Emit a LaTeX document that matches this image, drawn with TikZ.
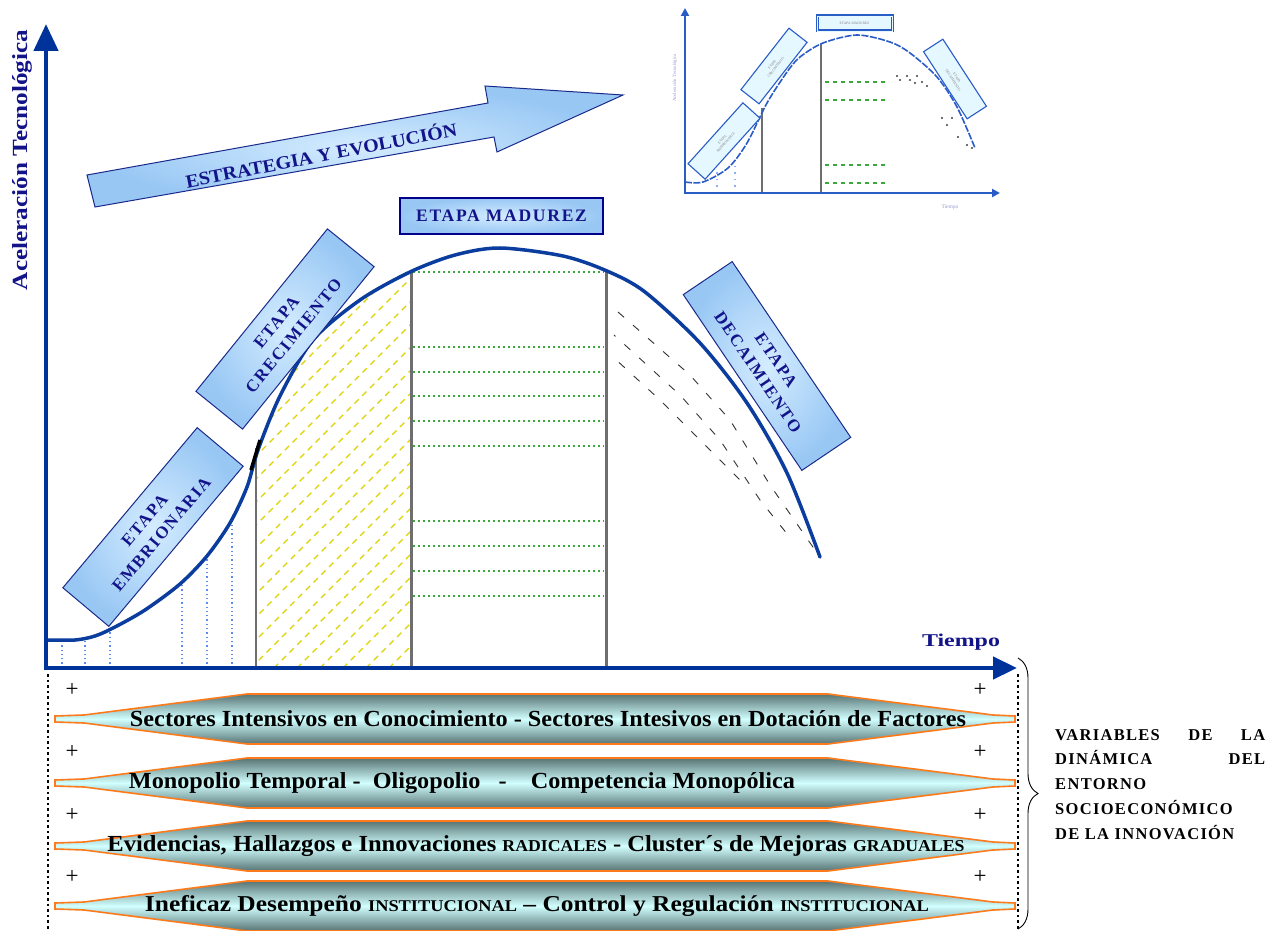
\documentclass[tikz,border=0pt]{standalone}
\usepackage{fontspec}
\usepackage{graphicx}
\setmainfont{Liberation Serif}
\newfontfamily\spacedserif[LetterSpace=10]{Liberation Serif}
\newfontfamily\widespacedserif[LetterSpace=8]{Liberation Serif}
\usetikzlibrary{arrows.meta,decorations.pathreplacing}
\newcommand\minorcaps[1]{{\fontsize{13}{13}\selectfont #1}}

\definecolor{axisblue}{HTML}{003399}
\definecolor{curveblue}{HTML}{0A3D9E}
\definecolor{labelnavy}{HTML}{14148A}
\definecolor{boxedge}{HTML}{1A2A8A}
\definecolor{boxlight}{HTML}{D4ECFF}
\definecolor{boxmid}{HTML}{98C7F4}
\definecolor{hatchyellow}{HTML}{DED200}
\definecolor{dotgreen}{HTML}{3AA83A}
\definecolor{stemgray}{HTML}{6E6E6E}
\definecolor{dotblue}{HTML}{5A8CF0}
\definecolor{barorange}{HTML}{FF7A1A}
\definecolor{barcyan}{HTML}{D2FFFF}
\definecolor{bardark}{HTML}{587474}
\definecolor{insetblue}{HTML}{2A5CC8}
\definecolor{insetbox}{HTML}{E6F8FF}
\definecolor{insettext}{HTML}{9A9AD8}

\begin{document}
\begin{tikzpicture}[x=1pt,y=-1pt,
  axisline/.style={draw=axisblue, line width=4.5pt},
  curveline/.style={draw=curveblue, line width=3.5pt, line cap=round},
  stagebox/.style={draw=boxedge, line width=1pt, inner color=boxlight, outer color=boxmid,
     align=center, text=labelnavy, inner sep=0pt,
     font=\spacedserif\bfseries\fontsize{17}{22}\selectfont},
  stem/.style={draw=stemgray, line width=3pt},
  thinstem/.style={draw=stemgray, line width=1.6pt},
  greendots/.style={draw=dotgreen, line width=1.6pt, dash pattern=on 1.6pt off 3.4pt},
  bluedots/.style={draw=dotblue, line width=1.3pt, dash pattern=on 1.3pt off 3pt},
  hatch/.style={draw=hatchyellow, line width=1.2pt, dash pattern=on 6pt off 5pt},
  declinedash/.style={draw=black!80, line width=0.9pt, dash pattern=on 8pt off 12pt},
  barshape/.style={draw=barorange, line width=1.6pt, top color=bardark, bottom color=bardark, middle color=barcyan},
  bartext/.style={inner sep=0pt, font=\bfseries\fontsize{18}{20}\selectfont},
  plus/.style={inner sep=0pt, font=\fontsize{23}{23}\selectfont},
  sidedots/.style={draw=black, line width=2.6pt, dash pattern=on 2.6pt off 3pt},
  insetaxis/.style={draw=insetblue, line width=2.6pt},
  insetcurve/.style={draw=insetblue, line width=1.6pt, dash pattern=on 7pt off 1.5pt},
  insetbox/.style={draw=insetblue, line width=1.1pt, fill=insetbox, inner sep=0pt, align=center,
     text=gray, font=\fontsize{3.6}{4.6}\selectfont},
]
\useasboundingbox (0,0) rectangle (1278,931);
\fill[white] (0,0) rectangle (1278,931);

% ---------- filling patterns under the life-cycle curve ----------
\begin{scope}
  \clip plot[smooth] coordinates {(46,640) (75,640) (95,636) (115,627) (145,610) (180,584) (207,556) (230,523) (247,487) (258,450) (280,396) (313,340) (360,300) (410,272) (455,255) (500,248) (563,256) (607,271) (645,292) (700,343) (747,403) (787,473) (820,557)} -- (820,668) -- (46,668) -- cycle;
  \foreach \x in {62,85,110,182,207,232} \draw[bluedots] (\x,668) -- (\x,400);
  \begin{scope}
    \clip (256,668) rectangle (410,250);
    \foreach \k in {0,...,24} \draw[hatch] (\k*23-140,668) -- ++(430,-430);
  \end{scope}
\end{scope}

% maturity band
\foreach \y in {272,347,372,396,421,446,521,546,571,596} \draw[greendots] (413,\y) -- (604,\y);

% decline band
\draw[declinedash] (618,312) -- (690,375) -- (730,420) -- (770,485) -- (815,550);
\draw[declinedash, dash phase=6pt] (614,335) -- (680,395) -- (720,440) -- (760,500) -- (792,540);
\draw[declinedash, dash phase=12pt] (613,357) -- (660,400) -- (700,440) -- (742,482);

% stage boundaries
\draw[thinstem] (256,668) -- (256,448);
\draw[stem] (411,668) -- (411,271);
\draw[stem] (606,668) -- (606,270);

% life-cycle curve
\draw[curveline] plot[smooth] coordinates {(46,640) (75,640) (95,636) (115,627) (145,610) (180,584) (207,556) (230,523) (247,487) (258,450) (280,396) (313,340) (360,300) (410,272) (455,255) (500,248) (563,256) (607,271) (645,292) (700,343) (747,403) (787,473) (820,557)};
\draw[black, line width=3.5pt] (251,470) -- (260,440);

% axes
\coordinate (origin) at (46,668);
\coordinate (ytip) at (46,24);
\coordinate (xtip) at (1017,668);
\draw[axisline, -{Triangle[width=24pt,length=27pt]}] ([yshift=-2pt]origin) -- (ytip);
\draw[axisline, -{Triangle[width=22pt,length=24pt]}] ([xshift=-2pt]origin) -- (xtip);
\node[rotate=90, text=labelnavy, inner sep=0pt] (ylabel) at (22,160)
  {\resizebox{260pt}{15pt}{\bfseries Aceleración Tecnológica}};
\node[text=labelnavy, inner sep=0pt] (xlabel) at (961,642)
  {\resizebox{78pt}{12.5pt}{\bfseries Tiempo}};

% strategy arrow
\path[draw=boxedge, line width=1pt, inner color=boxlight, outer color=boxmid]
  (87,175) -- (488,103) -- (485,86) -- (623,95) -- (497,152) -- (494,137) -- (95,207) -- cycle;
\node[rotate=11, text=labelnavy, inner sep=0pt] (strategy) at (321,154)
  {\resizebox{276pt}{16pt}{\bfseries ESTRATEGIA Y EVOLUCIÓN}};

% stage labels
\node[stagebox, rotate=50, minimum width=209pt, minimum height=60pt] (embrio) at (153,527) {ETAPA\\EMBRIONARIA};
\node[stagebox, rotate=51, minimum width=209pt, minimum height=60pt] (crec) at (285,329) {ETAPA\\CRECIMIENTO};
\node[stagebox, rotate=-56, minimum width=212pt, minimum height=59pt] (decai) at (767,366) {ETAPA\\DECAIMIENTO};
\node[stagebox, draw=blue!55!black, line width=1.5pt, minimum width=203pt, minimum height=36pt,
      font=\spacedserif\bfseries\fontsize{17.5}{18}\selectfont] (madurez) at (501.5,216) {ETAPA MADUREZ};

% ---------- small copy of the cycle ----------
\begin{scope}
  \clip plot[smooth] coordinates {(685,182) (703,182) (728,168) (747,143) (767,103) (787,72) (800,57) (823,43) (857,35) (890,42) (910,53) (937,77) (957,107) (975,148)} -- (975,193) -- (685,193) -- cycle;
  \clip (762,193) rectangle (821,30);
  \foreach \k in {0,...,10} \draw[draw=yellow!90!orange, line width=1.3pt, dash pattern=on 1.3pt off 8pt] (\k*13-120,193) -- ++(180,-180);
\end{scope}
\draw[draw=dotblue!70, line width=1.4pt, dash pattern=on 1.4pt off 5pt] (717,193) -- (717,172);
\draw[draw=dotblue!70, line width=1.4pt, dash pattern=on 1.4pt off 5pt] (735,193) -- (735,165);
\foreach \y in {82,100,165,183} \draw[draw=dotgreen, line width=1.4pt, dash pattern=on 4pt off 4pt] (825,\y) -- (888,\y);
\foreach \p in {(897,76),(900,80),(907,76),(910,80),(917,76),(915,83),(922,82),(927,86),(942,118),(952,118),(947,125),(958,137),(967,145),(972,148)}
  \fill[black!75] \p circle (1.2pt);
\draw[stemgray, line width=1.3pt] (762,193) -- (762,108);
\draw[stemgray, line width=1.3pt] (821,193) -- (821,44);
\draw[insetcurve] plot[smooth] coordinates {(685,182) (703,182) (728,168) (747,143) (767,103) (787,72) (800,57) (823,43) (857,35) (890,42) (910,53) (937,77) (957,107) (975,148)};
\coordinate (iorigin) at (685,193);
\coordinate (iytip) at (685,8);
\coordinate (ixtip) at (1000,193);
\draw[insetaxis, -{Triangle[width=8pt,length=8pt]}] ([yshift=-1pt]iorigin) -- (iytip);
\draw[insetaxis, -{Triangle[width=8pt,length=8pt]}] ([xshift=-1pt]iorigin) -- (ixtip);
\node[rotate=90, text=insettext, inner sep=0pt, font=\fontsize{4.8}{5}\selectfont] (iylabel) at (675,78) {Aceleración Tecnológica};
\node[text=insettext, inner sep=0pt, font=\fontsize{5.5}{6}\selectfont] (ixlabel) at (950,207) {Tiempo};
\node[insetbox, rotate=48, minimum width=82pt, minimum height=23pt] (iembrio) at (724,141) {ETAPA\\EMBRIONARIA};
\node[insetbox, rotate=52, minimum width=78pt, minimum height=23pt] (icrec) at (774,66) {ETAPA\\CRECIMIENTO};
\node[insetbox, rotate=-57, minimum width=80pt, minimum height=23pt] (idecai) at (955,79) {ETAPA\\DECAIMIENTO};
\node[insetbox, double=insetbox, double distance=0.8pt, minimum width=75pt, minimum height=15pt] (imadurez) at (854.5,23.5) {ETAPA MADUREZ};

% ---------- environment variables ----------
\draw[sidedots] (48,674) -- (48,931);
\draw[sidedots] (1018,674) -- (1018,931);

\foreach \c in {719,783,846,906}
  \path[barshape] (55,\c-3) -- (84,\c-4) -- (247,\c-25) -- (828,\c-25) -- (993,\c-4) -- (1015,\c-3)
     -- (1015,\c+3) -- (993,\c+4) -- (828,\c+25) -- (247,\c+25) -- (84,\c+4) -- (55,\c+3) -- cycle;

\foreach \c [count=\i] in {690,752,815,877} {
  \node[plus] (plusL\i) at (72,\c) {+};
  \node[plus] (plusR\i) at (980,\c) {+};
}

\node[bartext] (var1) at (548,719)
  {\resizebox{836pt}{16pt}{Sectores Intensivos en Conocimiento - Sectores Intesivos en Dotación de Factores}};
\node[bartext] (var2) at (462,783)
  {\resizebox{666pt}{16pt}{Monopolio Temporal -\ \ Oligopolio\ \ \ -\ \ \ \ Competencia Monopólica}};
\node[bartext] (var3) at (536,846)
  {\resizebox{857pt}{16pt}{Evidencias, Hallazgos e Innovaciones \minorcaps{RADICALES} - Cluster´s de Mejoras \minorcaps{GRADUALES}}};
\node[bartext] (var4) at (537,906)
  {\resizebox{784pt}{16pt}{Ineficaz Desempeño \minorcaps{INSTITUCIONAL} – Control y Regulación \minorcaps{INSTITUCIONAL}}};

\coordinate (braceTop) at (1018,658);
\coordinate (braceBottom) at (1018,929);
\draw[black, line width=0.9pt, decorate, decoration={brace, amplitude=20pt}] (braceTop) -- (braceBottom);

\node[anchor=north west, inner sep=0pt, align=left,
      font=\widespacedserif\bfseries\fontsize{16.5}{24.8}\selectfont] (vars) at (1055,729)
  {\makebox[210pt][s]{VARIABLES\hfill DE\hfill LA}\\
   \makebox[210pt][s]{DINÁMICA\hfill DEL}\\
   ENTORNO\\
   SOCIOECONÓMICO\\
   DE LA INNOVACIÓN};
\end{tikzpicture}
\end{document}
